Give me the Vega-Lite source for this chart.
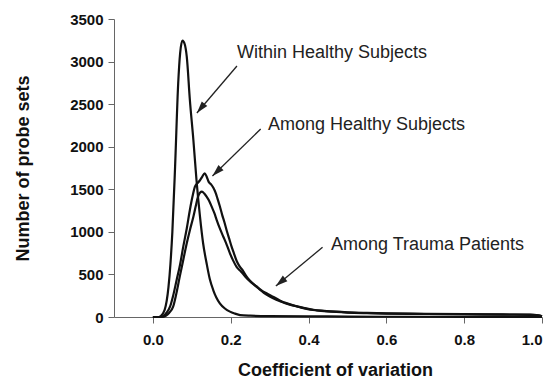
{
  "$schema": "https://vega.github.io/schema/vega-lite/v6.json",
  "width": 428,
  "height": 298,
  "autosize": {"type": "none"},
  "padding": {"left": 114, "top": 19, "right": 12, "bottom": 64},
  "background": "white",
  "config": {
    "view": {"stroke": null},
    "font": "Liberation Sans",
    "axis": {
      "grid": false,
      "domainColor": "#666666",
      "tickColor": "#666666",
      "tickSize": 6,
      "labelFont": "Liberation Sans",
      "labelFontWeight": "bold",
      "labelFontSize": 15,
      "labelColor": "#111111",
      "titleFont": "Liberation Sans",
      "titleFontWeight": "bold",
      "titleFontSize": 18,
      "titleColor": "#111111"
    }
  },
  "datasets": {
    "curves": [
      {"series": "within", "cv": 0.0, "n": 0},
      {"series": "within", "cv": 0.015, "n": 0},
      {"series": "within", "cv": 0.02, "n": 10},
      {"series": "within", "cv": 0.03, "n": 80},
      {"series": "within", "cv": 0.04, "n": 350},
      {"series": "within", "cv": 0.045, "n": 620},
      {"series": "within", "cv": 0.05, "n": 1000},
      {"series": "within", "cv": 0.057, "n": 1765},
      {"series": "within", "cv": 0.065, "n": 2745},
      {"series": "within", "cv": 0.07, "n": 3100},
      {"series": "within", "cv": 0.076, "n": 3245},
      {"series": "within", "cv": 0.082, "n": 3200},
      {"series": "within", "cv": 0.087, "n": 3057},
      {"series": "within", "cv": 0.095, "n": 2549},
      {"series": "within", "cv": 0.104, "n": 2079},
      {"series": "within", "cv": 0.112, "n": 1609},
      {"series": "within", "cv": 0.121, "n": 1178},
      {"series": "within", "cv": 0.129, "n": 866},
      {"series": "within", "cv": 0.138, "n": 631},
      {"series": "within", "cv": 0.146, "n": 450},
      {"series": "within", "cv": 0.155, "n": 317},
      {"series": "within", "cv": 0.163, "n": 230},
      {"series": "within", "cv": 0.172, "n": 161},
      {"series": "within", "cv": 0.185, "n": 100},
      {"series": "within", "cv": 0.198, "n": 63},
      {"series": "within", "cv": 0.211, "n": 40},
      {"series": "within", "cv": 0.224, "n": 23},
      {"series": "within", "cv": 0.25, "n": 15},
      {"series": "within", "cv": 0.3, "n": 10},
      {"series": "within", "cv": 0.4, "n": 8},
      {"series": "within", "cv": 0.5, "n": 5},
      {"series": "within", "cv": 0.6, "n": 3},
      {"series": "within", "cv": 0.8, "n": 2},
      {"series": "within", "cv": 1.0, "n": 0},

      {"series": "healthy", "cv": 0.0, "n": 0},
      {"series": "healthy", "cv": 0.02, "n": 0},
      {"series": "healthy", "cv": 0.028, "n": 15},
      {"series": "healthy", "cv": 0.035, "n": 50},
      {"series": "healthy", "cv": 0.044, "n": 121},
      {"series": "healthy", "cv": 0.052, "n": 250},
      {"series": "healthy", "cv": 0.061, "n": 435},
      {"series": "healthy", "cv": 0.07, "n": 620},
      {"series": "healthy", "cv": 0.078, "n": 826},
      {"series": "healthy", "cv": 0.087, "n": 1040},
      {"series": "healthy", "cv": 0.095, "n": 1257},
      {"series": "healthy", "cv": 0.102, "n": 1420},
      {"series": "healthy", "cv": 0.108, "n": 1531},
      {"series": "healthy", "cv": 0.114, "n": 1570},
      {"series": "healthy", "cv": 0.12, "n": 1600},
      {"series": "healthy", "cv": 0.127, "n": 1650},
      {"series": "healthy", "cv": 0.133, "n": 1688},
      {"series": "healthy", "cv": 0.138, "n": 1650},
      {"series": "healthy", "cv": 0.143, "n": 1590},
      {"series": "healthy", "cv": 0.149, "n": 1560},
      {"series": "healthy", "cv": 0.155, "n": 1520},
      {"series": "healthy", "cv": 0.161, "n": 1460},
      {"series": "healthy", "cv": 0.166, "n": 1390},
      {"series": "healthy", "cv": 0.172, "n": 1300},
      {"series": "healthy", "cv": 0.178, "n": 1200},
      {"series": "healthy", "cv": 0.184, "n": 1110},
      {"series": "healthy", "cv": 0.19, "n": 1010},
      {"series": "healthy", "cv": 0.196, "n": 920},
      {"series": "healthy", "cv": 0.202, "n": 830},
      {"series": "healthy", "cv": 0.208, "n": 750},
      {"series": "healthy", "cv": 0.215, "n": 660},
      {"series": "healthy", "cv": 0.222, "n": 600},
      {"series": "healthy", "cv": 0.232, "n": 540},
      {"series": "healthy", "cv": 0.24, "n": 480},
      {"series": "healthy", "cv": 0.249, "n": 430},
      {"series": "healthy", "cv": 0.258, "n": 390},
      {"series": "healthy", "cv": 0.266, "n": 360},
      {"series": "healthy", "cv": 0.275, "n": 320},
      {"series": "healthy", "cv": 0.285, "n": 285},
      {"series": "healthy", "cv": 0.295, "n": 255},
      {"series": "healthy", "cv": 0.309, "n": 220},
      {"series": "healthy", "cv": 0.33, "n": 180},
      {"series": "healthy", "cv": 0.352, "n": 145},
      {"series": "healthy", "cv": 0.375, "n": 118},
      {"series": "healthy", "cv": 0.395, "n": 95},
      {"series": "healthy", "cv": 0.42, "n": 78},
      {"series": "healthy", "cv": 0.45, "n": 65},
      {"series": "healthy", "cv": 0.5, "n": 52},
      {"series": "healthy", "cv": 0.55, "n": 45},
      {"series": "healthy", "cv": 0.6, "n": 40},
      {"series": "healthy", "cv": 0.7, "n": 35},
      {"series": "healthy", "cv": 0.8, "n": 32},
      {"series": "healthy", "cv": 0.9, "n": 29},
      {"series": "healthy", "cv": 0.97, "n": 26},
      {"series": "healthy", "cv": 0.99, "n": 20},
      {"series": "healthy", "cv": 1.0, "n": 8},

      {"series": "trauma", "cv": 0.0, "n": 0},
      {"series": "trauma", "cv": 0.025, "n": 0},
      {"series": "trauma", "cv": 0.033, "n": 15},
      {"series": "trauma", "cv": 0.042, "n": 50},
      {"series": "trauma", "cv": 0.052, "n": 121},
      {"series": "trauma", "cv": 0.06, "n": 270},
      {"series": "trauma", "cv": 0.069, "n": 474},
      {"series": "trauma", "cv": 0.078, "n": 670},
      {"series": "trauma", "cv": 0.087, "n": 866},
      {"series": "trauma", "cv": 0.095, "n": 1020},
      {"series": "trauma", "cv": 0.104, "n": 1178},
      {"series": "trauma", "cv": 0.11, "n": 1300},
      {"series": "trauma", "cv": 0.116, "n": 1413},
      {"series": "trauma", "cv": 0.121, "n": 1460},
      {"series": "trauma", "cv": 0.126, "n": 1472},
      {"series": "trauma", "cv": 0.132, "n": 1450},
      {"series": "trauma", "cv": 0.138, "n": 1413},
      {"series": "trauma", "cv": 0.145, "n": 1360},
      {"series": "trauma", "cv": 0.151, "n": 1296},
      {"series": "trauma", "cv": 0.158, "n": 1220},
      {"series": "trauma", "cv": 0.164, "n": 1139},
      {"series": "trauma", "cv": 0.172, "n": 1040},
      {"series": "trauma", "cv": 0.181, "n": 943},
      {"series": "trauma", "cv": 0.19, "n": 845},
      {"series": "trauma", "cv": 0.198, "n": 748},
      {"series": "trauma", "cv": 0.206, "n": 665},
      {"series": "trauma", "cv": 0.215, "n": 590},
      {"series": "trauma", "cv": 0.224, "n": 545},
      {"series": "trauma", "cv": 0.232, "n": 505},
      {"series": "trauma", "cv": 0.24, "n": 460},
      {"series": "trauma", "cv": 0.249, "n": 420},
      {"series": "trauma", "cv": 0.258, "n": 385},
      {"series": "trauma", "cv": 0.27, "n": 345},
      {"series": "trauma", "cv": 0.28, "n": 310},
      {"series": "trauma", "cv": 0.292, "n": 278},
      {"series": "trauma", "cv": 0.31, "n": 235},
      {"series": "trauma", "cv": 0.326, "n": 195},
      {"series": "trauma", "cv": 0.345, "n": 160},
      {"series": "trauma", "cv": 0.369, "n": 128},
      {"series": "trauma", "cv": 0.39, "n": 105},
      {"series": "trauma", "cv": 0.412, "n": 85},
      {"series": "trauma", "cv": 0.44, "n": 72},
      {"series": "trauma", "cv": 0.47, "n": 62},
      {"series": "trauma", "cv": 0.5, "n": 55},
      {"series": "trauma", "cv": 0.55, "n": 48},
      {"series": "trauma", "cv": 0.6, "n": 43},
      {"series": "trauma", "cv": 0.7, "n": 37},
      {"series": "trauma", "cv": 0.8, "n": 33},
      {"series": "trauma", "cv": 0.9, "n": 30},
      {"series": "trauma", "cv": 0.97, "n": 27},
      {"series": "trauma", "cv": 0.99, "n": 20},
      {"series": "trauma", "cv": 1.0, "n": 8}
    ],
    "notes": [
      {"label": "Within Healthy Subjects", "tx": 0.216, "ty": 3042, "ax": 0.216, "ay": 2948, "hx": 0.113, "hy": 2396},
      {"label": "Among Healthy Subjects", "tx": 0.2955, "ty": 2196, "ax": 0.277, "ay": 2208, "hx": 0.153, "hy": 1656},
      {"label": "Among Trauma Patients", "tx": 0.4575, "ty": 787, "ax": 0.436, "ay": 819, "hx": 0.316, "hy": 364}
    ]
  },
  "layer": [
    {
      "data": {"name": "curves"},
      "mark": {"type": "line", "color": "#111111", "strokeWidth": 2.2, "interpolate": "monotone"},
      "encoding": {
        "x": {
          "field": "cv", "type": "quantitative",
          "scale": {"domain": [-0.1, 1.0], "nice": false, "zero": false},
          "axis": {"title": "Coefficient of variation", "values": [0, 0.2, 0.4, 0.6, 0.8, 1.0], "format": ".1f", "labelPadding": 9, "titleBaseline": "alphabetic", "titleY": 58, "titleX": 221}
        },
        "y": {
          "field": "n", "type": "quantitative",
          "scale": {"domain": [0, 3500], "nice": false},
          "axis": {"title": "Number of probe sets", "values": [0, 500, 1000, 1500, 2000, 2500, 3000, 3500], "format": "d", "labelPadding": 5, "titleBaseline": "alphabetic", "titleX": -86, "titleY": 149, "titleAngle": -90}
        },
        "detail": {"field": "series"}
      }
    },
    {
      "data": {"name": "notes"},
      "mark": {"type": "rule", "color": "#222222", "strokeWidth": 1.3},
      "encoding": {
        "x": {"field": "ax", "type": "quantitative"},
        "y": {"field": "ay", "type": "quantitative"},
        "x2": {"field": "hx"},
        "y2": {"field": "hy"}
      }
    },
    {
      "data": {"name": "notes"},
      "mark": {"type": "text", "align": "left", "baseline": "alphabetic", "fontSize": 18, "color": "#222222", "font": "Liberation Sans"},
      "encoding": {
        "x": {"field": "tx", "type": "quantitative"},
        "y": {"field": "ty", "type": "quantitative"},
        "text": {"field": "label"}
      }
    },
    {
      "data": {"name": "notes"},
      "transform": [{"filter": "datum.label === 'Within Healthy Subjects'"}],
      "mark": {"type": "point", "shape": "M0,0L-0.6,2L0.6,2Z", "filled": true, "color": "#222222", "size": 144, "angle": 219.6, "opacity": 1},
      "encoding": {
        "x": {"field": "hx", "type": "quantitative"},
        "y": {"field": "hy", "type": "quantitative"}
      }
    },
    {
      "data": {"name": "notes"},
      "transform": [{"filter": "datum.label === 'Among Healthy Subjects'"}],
      "mark": {"type": "point", "shape": "M0,0L-0.6,2L0.6,2Z", "filled": true, "color": "#222222", "size": 144, "angle": 225.6, "opacity": 1},
      "encoding": {
        "x": {"field": "hx", "type": "quantitative"},
        "y": {"field": "hy", "type": "quantitative"}
      }
    },
    {
      "data": {"name": "notes"},
      "transform": [{"filter": "datum.label === 'Among Trauma Patients'"}],
      "mark": {"type": "point", "shape": "M0,0L-0.6,2L0.6,2Z", "filled": true, "color": "#222222", "size": 144, "angle": 230.4, "opacity": 1},
      "encoding": {
        "x": {"field": "hx", "type": "quantitative"},
        "y": {"field": "hy", "type": "quantitative"}
      }
    }
  ]
}
